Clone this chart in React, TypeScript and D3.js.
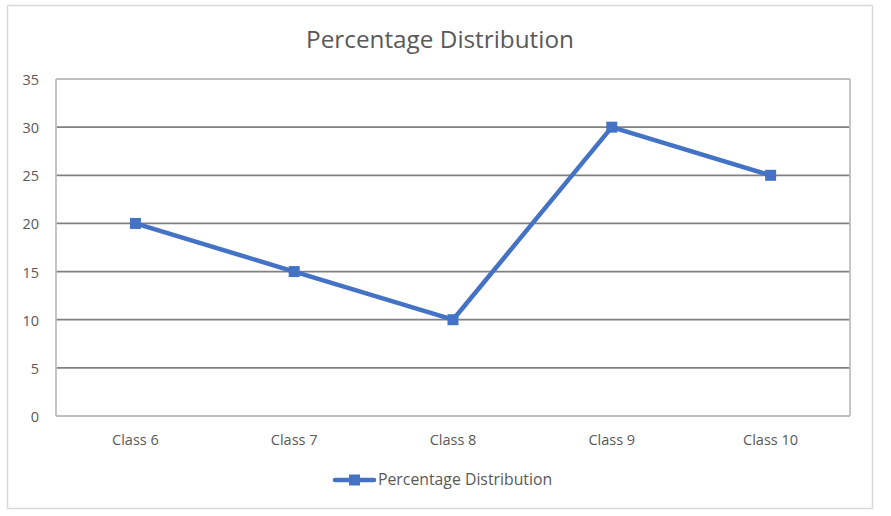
import React from "react";
import * as d3 from "d3";

const categories = ["Class 6", "Class 7", "Class 8", "Class 9", "Class 10"];
const values = [20, 15, 10, 30, 25];
const yTicks = [0, 5, 10, 15, 20, 25, 30, 35];
const seriesName = "Percentage Distribution";
const title = "Percentage Distribution";

export default function App() {
  const W = 891, H = 516;
  const left = 56, right = 850, top = 79, bottom = 416;
  const x = d3.scaleBand<string>().domain(categories).range([left, right]);
  const y = d3.scaleLinear().domain([0, 35]).range([bottom, top]);
  const line = d3
    .line<number>()
    .x((_, i) => x(categories[i])! + x.bandwidth() / 2)
    .y((d) => y(d));
  const font = "'Open Sans', sans-serif";
  const color = "#4472C4";
  return (
    <svg width={W} height={H} style={{ position: "absolute", left: 0, top: 0 }}>
      <rect x={0} y={0} width={W} height={H} fill="#fff" />
      <rect x={7.5} y={5.5} width={865} height={503} fill="#fff" stroke="#d9d9d9" strokeWidth={1.5} />
      <text x={440} y={48} textAnchor="middle" fontFamily={font} fontSize={24.3} fill="#595959">
        {title}
      </text>
      {yTicks.map((t) => (
        <g key={t}>
          <line
            x1={left}
            x2={right}
            y1={y(t)}
            y2={y(t)}
            stroke={t === 0 || t === 35 ? "#bfbfbf" : "#808080"}
            strokeWidth={t === 0 || t === 35 ? 1.8 : 1.8}
          />
          <text x={39} y={y(t) + 6} textAnchor="end" fontFamily={font} fontSize={14.5} fill="#595959">
            {t}
          </text>
        </g>
      ))}
      <line x1={left} x2={left} y1={top} y2={bottom} stroke="#bfbfbf" strokeWidth={1.8} />
      <line x1={right} x2={right} y1={top} y2={bottom} stroke="#bfbfbf" strokeWidth={1.8} />
      {categories.map((c) => (
        <text key={c} x={x(c)! + x.bandwidth() / 2} y={445} textAnchor="middle" fontFamily={font} fontSize={14.5} fill="#595959">
          {c}
        </text>
      ))}
      <path d={line(values)!} fill="none" stroke={color} strokeWidth={4.5} strokeLinejoin="round" />
      {values.map((v, i) => (
        <rect
          key={i}
          x={x(categories[i])! + x.bandwidth() / 2 - 5.5}
          y={y(v) - 5.5}
          width={11}
          height={11}
          fill={color}
        />
      ))}
      <line x1={335} x2={374} y1={480} y2={480} stroke={color} strokeWidth={4.5} strokeLinecap="round" />
      <rect x={349} y={474.5} width={11} height={11} fill={color} />
      <text x={378} y={485} fontFamily={font} fontSize={15.8} fill="#595959">
        {seriesName}
      </text>
    </svg>
  );
}
